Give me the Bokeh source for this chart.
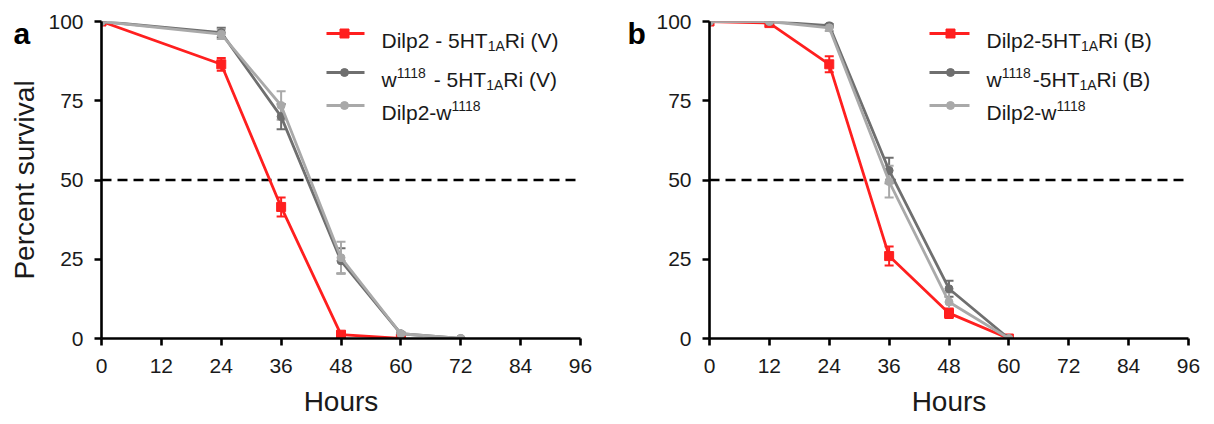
from bokeh.plotting import figure
from bokeh.models import Range1d, Whisker, TeeHead, ColumnDataSource, Label, FixedTicker, Span
from bokeh.layouts import row
from bokeh.embed import file_html
from bokeh.resources import INLINE

# ---------------- data ----------------
hour_ticks = [0, 12, 24, 36, 48, 60, 72, 84, 96]
pct_ticks = [0, 25, 50, 75, 100]

# panel a
a_red_x = [0, 24, 36, 48, 60]
a_red_y = [100, 86.5, 41.5, 1.2, 0]
a_red_e = [0, 2, 3, 1, 0]
a_dark_x = [0, 24, 36, 48, 60, 72]
a_dark_y = [100, 96.5, 70, 24.5, 1.5, 0]
a_dark_e = [0, 1.5, 4, 4, 0.5, 0]
a_light_x = [0, 24, 36, 48, 60, 72]
a_light_y = [100, 96, 73.5, 25.5, 1.5, 0]
a_light_e = [0, 1.5, 4.5, 5, 0.5, 0]

# panel b
b_red_x = [0, 12, 24, 36, 48, 60]
b_red_y = [100, 99.5, 86.5, 26, 8, 0]
b_red_e = [0, 1, 2.5, 3, 1.5, 0]
b_dark_x = [0, 12, 24, 36, 48, 60]
b_dark_y = [100, 100, 98.7, 53, 15.7, 0]
b_dark_e = [0, 0.5, 0.5, 4, 2.5, 0]
b_light_x = [0, 12, 24, 36, 48, 60]
b_light_y = [100, 100, 98, 49.5, 11.5, 0]
b_light_e = [0, 0.5, 1, 5, 3, 0]

# legend texts: list of (text, kind) with kind in {"n","sub","sup"}
a_labels = [
    [("Dilp2 - 5HT", "n"), ("1A", "sub"), ("Ri (V)", "n")],
    [("w", "n"), ("1118", "sup"), (" - 5HT", "n"), ("1A", "sub"), ("Ri (V)", "n")],
    [("Dilp2-w", "n"), ("1118", "sup")],
]
b_labels = [
    [("Dilp2-5HT", "n"), ("1A", "sub"), ("Ri (B)", "n")],
    [("w", "n"), ("1118", "sup"), ("-5HT", "n"), ("1A", "sub"), ("Ri (B)", "n")],
    [("Dilp2-w", "n"), ("1118", "sup")],
]

RED = "#ff1f1f"
DARK = "#6f6f6f"
LIGHT = "#a9a9a9"
FONT = "Liberation Sans"
TXT = "#1a1a1a"

# Arial-metric widths (per 1000 em) for layout of rich legend text
WID = {' ': 278, '-': 333, '(': 333, ')': 333, 'A': 667, 'B': 667, 'D': 722, 'H': 722,
       'R': 722, 'T': 611, 'V': 667, 'i': 222, 'l': 222, 'p': 556, 'w': 722}
for d in "0123456789":
    WID[d] = 556


def text_w(s, size):
    return sum(WID.get(c, 556) for c in s) * size / 1000.0


FRAME_W = 479
FRAME_H = 317
NORM = 21
SMALL = 14


def make_panel(letter, series, labels, left_border, right_border, width, ylabel, leg,
               letter_side):
    p = figure(width=width, height=424, output_backend="svg", toolbar_location=None,
               x_range=Range1d(0, 96), y_range=Range1d(0, 100),
               min_border_left=left_border, min_border_right=right_border,
               min_border_top=21, min_border_bottom=86)
    p.outline_line_color = None
    p.xgrid.visible = False
    p.ygrid.visible = False
    p.background_fill_color = "white"
    p.border_fill_color = "white"

    for ax in (p.xaxis[0], p.yaxis[0]):
        ax.axis_line_width = 2.6
        ax.axis_line_color = "black"
        ax.major_tick_line_width = 2.6
        ax.major_tick_line_color = "black"
        ax.major_tick_out = 7
        ax.major_tick_in = 0
        ax.minor_tick_line_color = None
        ax.major_label_text_font = FONT
        ax.major_label_text_font_size = "21px"
        ax.major_label_text_color = TXT
        ax.axis_label_text_font = FONT
        ax.axis_label_text_font_size = "28px"
        ax.axis_label_text_font_style = "normal"
        ax.axis_label_text_color = TXT
    p.xaxis.major_label_standoff = 13
    p.yaxis.major_label_standoff = 11
    p.xaxis.ticker = FixedTicker(ticks=hour_ticks)
    p.yaxis.ticker = FixedTicker(ticks=pct_ticks)
    p.xaxis.axis_label = "Hours"
    p.xaxis.axis_label_standoff = 10
    if ylabel:
        p.yaxis.axis_label = ylabel
        p.yaxis.axis_label_standoff = 5

    p.add_layout(Span(location=50, dimension="width", line_color="black",
                      line_width=2.6, line_dash="10 6", level="underlay"))

    for (xs, ys, es, color, marker, msize) in series:
        src = ColumnDataSource(dict(x=xs, y=ys,
                                    lo=[y - e for y, e in zip(ys, es)],
                                    hi=[y + e for y, e in zip(ys, es)]))
        w = Whisker(source=src, base="x", lower="lo", upper="hi", line_color=color,
                    line_width=2,
                    upper_head=TeeHead(size=9, line_color=color, line_width=2),
                    lower_head=TeeHead(size=9, line_color=color, line_width=2))
        p.add_layout(w)
        p.line("x", "y", source=src, line_color=color, line_width=2.8)
        p.scatter("x", "y", source=src, marker=marker, size=msize,
                  fill_color=color, line_color=color)

    # legend (manual, to allow sub/superscripts)
    line_x0, line_x1, mark_x, text_x, rows_y = leg

    def xd(px):
        return px * 96.0 / FRAME_W

    def yd(py):
        return 100 - py * 100.0 / FRAME_H

    for i, (xs, ys, es, color, marker, msize) in enumerate(series):
        ry = yd(rows_y[i])
        p.line([xd(line_x0), xd(line_x1)], [ry, ry], line_color=color, line_width=2.8)
        p.scatter([xd(mark_x)], [ry], marker=marker, size=msize, fill_color=color,
                  line_color=color)
        off = 0.0
        for (s, kind) in labels[i]:
            size = NORM if kind == "n" else SMALL
            yo = -7 if kind == "n" else (-12 if kind == "sub" else 0)
            lead = len(s) - len(s.lstrip(" "))
            off += text_w(" " * lead, size)
            s2 = s.lstrip(" ")
            p.add_layout(Label(x=xd(text_x), y=ry, x_offset=off, y_offset=yo, text=s2,
                               text_font=FONT, text_font_size=f"{size}px",
                               text_color=TXT, text_baseline="alphabetic",
                               text_align="left"))
            off += text_w(s2, size)

    # panel letter, placed in a side panel so it is not clipped to the frame
    p.add_layout(Label(x=0, y=100, x_offset=-(left_border - (13 if letter == "a" else 19)),
                       y_offset=-12, text=letter, text_font=FONT, text_font_size="30px",
                       text_font_style="bold", text_color="black",
                       text_baseline="alphabetic", text_align="left"), letter_side)
    return p


series_a = [
    (a_red_x, a_red_y, a_red_e, RED, "square", 9),
    (a_dark_x, a_dark_y, a_dark_e, DARK, "circle", 8),
    (a_light_x, a_light_y, a_light_e, LIGHT, "circle", 8),
]
series_b = [
    (b_red_x, b_red_y, b_red_e, RED, "square", 9),
    (b_dark_x, b_dark_y, b_dark_e, DARK, "circle", 8),
    (b_light_x, b_light_y, b_light_e, LIGHT, "circle", 8),
]

# legend layout in frame pixels: line start, line end, marker, text start, row centres
leg_a = (225, 263, 243, 280, [12, 51, 84])
leg_b = (220, 260, 241, 277, [12, 51, 84])

pa = make_panel("a", series_a, a_labels, 101, 28, 608, "Percent survival", leg_a, "right")
pb = make_panel("b", series_b, b_labels, 101, 20, 600, None, leg_b, "left")

layout = row(pa, pb)
open("out.html", "w").write(file_html(layout, INLINE))
